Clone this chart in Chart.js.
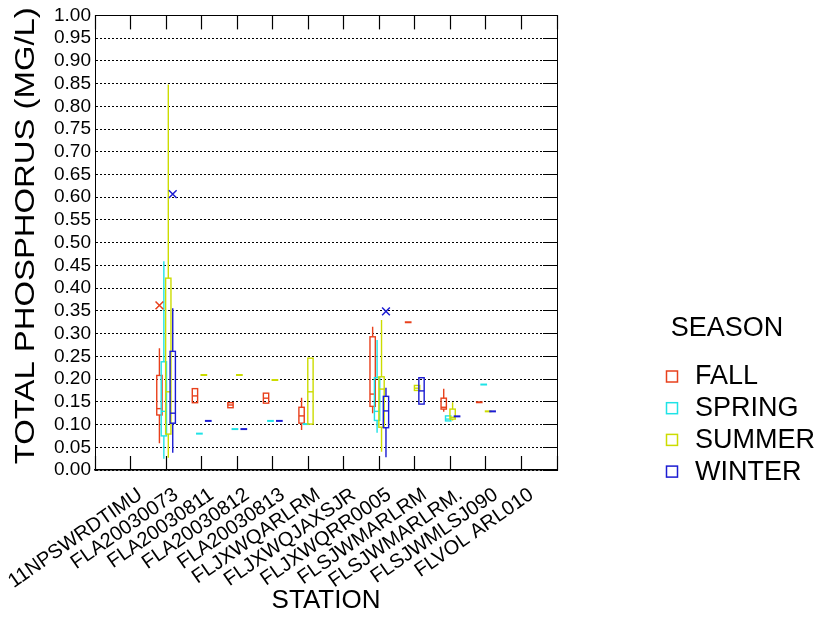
<!DOCTYPE html>
<html>
<head>
<meta charset="utf-8">
<script src="https://cdn.jsdelivr.net/npm/chart.js@4/dist/chart.umd.min.js"></script>
<style>
  html, body { margin: 0; padding: 0; background: #fff; }
  canvas { display: block; }
</style>
</head>
<body>
<canvas id="chart" width="820" height="618"></canvas>
<script>
// Sampling stations along the x axis
const stations = [
  '11NPSWRDTIMU', 'FLA20030073', 'FLA20030811', 'FLA20030812', 'FLA20030813',
  'FLJXWQARLRM', 'FLJXWQJAXSJR', 'FLJXWQRR0005', 'FLSJWMARLRM', 'FLSJWMARLRM.',
  'FLSJWMLSJ090', 'FLVOL ARL010'
];

const seasons = ['FALL', 'SPRING', 'SUMMER', 'WINTER'];
const seasonColors = ['#e8401c', '#1fe3e6', '#ccdc00', '#1c1cd2'];

// Total phosphorus (mg/L) per station: [min, q1, median, q3, max]; null = no samples
const fallStats = [
  null,
  [0.059, 0.121, 0.135, 0.208, 0.268],
  [0.148, 0.148, 0.163, 0.179, 0.179],
  [0.137, 0.137, 0.143, 0.148, 0.148],
  [0.147, 0.147, 0.158, 0.169, 0.169],
  [0.088, 0.103, 0.119, 0.138, 0.159],
  null,
  [0.125, 0.140, 0.167, 0.293, 0.315],
  [0.325, 0.325, 0.325, 0.325, 0.325],
  [0.128, 0.134, 0.138, 0.158, 0.179],
  [0.149, 0.149, 0.149, 0.149, 0.149],
  null
];
const springStats = [
  null,
  [0.025, 0.075, 0.129, 0.238, 0.459],
  [0.080, 0.080, 0.080, 0.080, 0.080],
  [0.090, 0.090, 0.090, 0.090, 0.090],
  [0.108, 0.108, 0.108, 0.108, 0.108],
  [0.101, 0.101, 0.101, 0.101, 0.101],
  null,
  [0.082, 0.109, 0.129, 0.203, 0.286],
  null,
  [0.108, 0.108, 0.112, 0.119, 0.119],
  [0.188, 0.188, 0.188, 0.188, 0.188],
  null
];
const summerStats = [
  null,
  [0.027, 0.079, 0.172, 0.422, 0.848],
  [0.209, 0.209, 0.209, 0.209, 0.209],
  [0.209, 0.209, 0.209, 0.209, 0.209],
  [0.198, 0.198, 0.198, 0.198, 0.198],
  [0.101, 0.101, 0.172, 0.246, 0.246],
  null,
  [0.040, 0.094, 0.178, 0.205, 0.330],
  [0.175, 0.175, 0.180, 0.186, 0.186],
  [0.109, 0.112, 0.116, 0.134, 0.149],
  [0.129, 0.129, 0.129, 0.129, 0.129],
  null
];
const winterStats = [
  null,
  [0.038, 0.103, 0.125, 0.261, 0.356],
  [0.108, 0.108, 0.108, 0.108, 0.108],
  [0.090, 0.090, 0.090, 0.090, 0.090],
  [0.108, 0.108, 0.108, 0.108, 0.108],
  null,
  null,
  [0.028, 0.093, 0.130, 0.162, 0.181],
  [0.145, 0.145, 0.174, 0.203, 0.203],
  [0.118, 0.118, 0.118, 0.118, 0.118],
  [0.129, 0.129, 0.129, 0.129, 0.129],
  null
];

// Outliers: [station index, value]
const fallOutliers = [[1, 0.362]];
const springOutliers = [];
const summerOutliers = [];
const winterOutliers = [[1, 0.607], [7, 0.349]];

const seasonStats = [fallStats, springStats, summerStats, winterStats];
const seasonOutliers = [fallOutliers, springOutliers, summerOutliers, winterOutliers];

// side-by-side placement of the four seasons inside one station slot (axis units)
const seasonOffset = [-0.1875, -0.0625, 0.0625, 0.1875];
const boxHalf = 0.075;

const FONT = "'Liberation Sans', Arial, sans-serif";

const boxPlotPlugin = {
  id: 'boxPlot',
  beforeDatasetsDraw(chart) {
    const { ctx, scales: { x, y } } = chart;
    const hw = x.getPixelForValue(boxHalf) - x.getPixelForValue(0);
    ctx.save();
    seasonStats.forEach((stats, s) => {
      ctx.strokeStyle = seasonColors[s];
      stats.forEach((st, i) => {
        if (!st) return;
        const [mn, q1, md, q3, mx] = st;
        const xc = x.getPixelForValue(i + 1 + seasonOffset[s]);
        const pMin = y.getPixelForValue(mn), pQ1 = y.getPixelForValue(q1);
        const pMd = y.getPixelForValue(md), pQ3 = y.getPixelForValue(q3);
        const pMax = y.getPixelForValue(mx);
        ctx.lineWidth = 1.4;
        ctx.beginPath();
        if (mx > q3) { ctx.moveTo(xc, pQ3); ctx.lineTo(xc, pMax); }
        if (mn < q1) { ctx.moveTo(xc, pQ1); ctx.lineTo(xc, pMin); }
        ctx.stroke();
        if (q3 - q1 < 0.002) {
          ctx.lineWidth = 2;
          ctx.beginPath();
          ctx.moveTo(xc - hw - 0.7, pMd);
          ctx.lineTo(xc + hw + 0.7, pMd);
          ctx.stroke();
        } else {
          ctx.strokeRect(xc - hw, pQ3, 2 * hw, pQ1 - pQ3);
          ctx.beginPath();
          ctx.moveTo(xc - hw, pMd);
          ctx.lineTo(xc + hw, pMd);
          ctx.stroke();
        }
      });
    });
    ctx.restore();
  },
  afterDraw(chart) {
    const { ctx, chartArea } = chart;
    ctx.save();
    // y axis title, set along the axis
    ctx.fillStyle = '#000';
    ctx.font = `27px ${FONT}`;
    const title = 'TOTAL PHOSPHORUS (MG/L)';
    const w = ctx.measureText(title).width;
    ctx.translate(27, (chartArea.top + chartArea.bottom) / 2 - 7);
    ctx.rotate(-Math.PI / 2);
    ctx.scale(457 / w, 1);
    ctx.textAlign = 'center';
    ctx.textBaseline = 'middle';
    ctx.fillText(title, 0, 0);
    ctx.restore();

    // season legend
    ctx.save();
    ctx.fillStyle = '#000';
    ctx.font = `27px ${FONT}`;
    ctx.textAlign = 'center';
    ctx.textBaseline = 'middle';
    ctx.fillText('SEASON', 727, 329);
    ctx.textAlign = 'left';
    seasons.forEach((name, k) => {
      const cy = 377 + k * 31.7;
      ctx.strokeStyle = seasonColors[k];
      ctx.lineWidth = 1.5;
      ctx.strokeRect(666.5, cy - 6, 11, 11);
      ctx.fillStyle = '#000';
      ctx.fillText(name, 695, cy);
    });
    ctx.restore();
  }
};

const datasets = seasons.map((name, k) => ({
  label: name,
  data: seasonOutliers[k].map(([i, v]) => ({ x: i + 1 + seasonOffset[k], y: v })),
  pointStyle: 'crossRot',
  pointRadius: 5.5,
  pointBorderWidth: 1.5,
  borderColor: seasonColors[k],
  backgroundColor: seasonColors[k]
}));

new Chart(document.getElementById('chart'), {
  type: 'scatter',
  data: { datasets },
  plugins: [boxPlotPlugin],
  options: {
    responsive: false,
    animation: false,
    devicePixelRatio: 1,
    layout: { padding: { top: 10, right: 263, left: 0, bottom: 0 } },
    plugins: { legend: { display: false }, tooltip: { enabled: false } },
    scales: {
      x: {
        type: 'linear',
        position: 'bottom',
        min: 0,
        max: stations.length + 1,
        afterFit(scale) { scale.height = 148; },
        ticks: {
          stepSize: 1,
          autoSkip: false,
          minRotation: 35,
          maxRotation: 35,
          padding: 27,
          labelOffset: 10,
          color: '#000',
          font: { family: FONT, size: 20 },
          callback: (v) => stations[v - 1] || ''
        },
        grid: { drawOnChartArea: false, drawTicks: true, tickLength: -14, tickColor: '#000', tickWidth: 1.2 },
        border: { display: true, color: '#000', width: 1.5 },
        title: {
          display: true,
          text: 'STATION',
          color: '#000',
          font: { family: FONT, size: 26 },
          padding: { top: 0, bottom: 2 }
        }
      },
      xTop: {
        type: 'linear',
        position: 'top',
        min: 0,
        max: stations.length + 1,
        afterFit(scale) { scale.height = 0; },
        ticks: { stepSize: 1, display: false },
        grid: { drawOnChartArea: false, drawTicks: true, tickLength: -14, tickColor: '#000', tickWidth: 1.2 },
        border: { display: true, color: '#000', width: 1 }
      },
      y: {
        type: 'linear',
        position: 'left',
        min: 0,
        max: 1,
        afterFit(scale) { scale.width = 95; },
        ticks: {
          stepSize: 0.05,
          autoSkip: false,
          padding: 4,
          color: '#000',
          font: { family: FONT, size: 19 },
          callback: (v) => v.toFixed(2)
        },
        grid: { color: '#000', lineWidth: 1, drawTicks: false },
        border: { display: true, color: '#000', width: 1, dash: [2, 2] }
      },
      yRight: {
        type: 'linear',
        position: 'right',
        min: 0,
        max: 1,
        afterFit(scale) { scale.width = 0; },
        ticks: { stepSize: 0.05, display: false },
        grid: { drawOnChartArea: false, drawTicks: true, tickLength: -14, tickColor: '#000', tickWidth: 1 },
        border: { display: true, color: '#000', width: 1 }
      }
    }
  }
});
</script>
</body>
</html>
